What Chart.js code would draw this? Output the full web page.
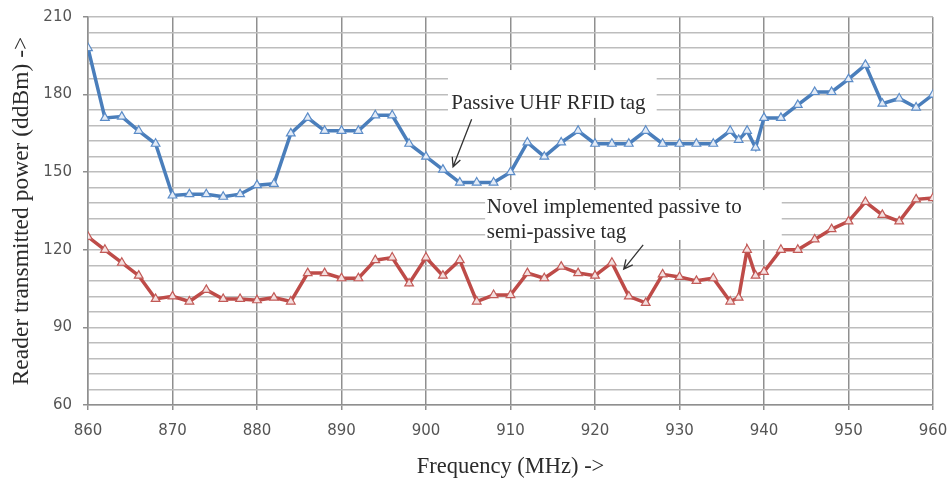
<!DOCTYPE html>
<html>
<head>
<meta charset="utf-8">
<script src="https://cdn.jsdelivr.net/npm/chart.js@4.4.1/dist/chart.umd.min.js"></script>
<style>
  html, body { margin: 0; padding: 0; background: #fff; }
</style>
</head>
<body>
<canvas id="chart" width="947" height="483"></canvas>
<script>
// Frequencies (MHz) - every 2 MHz plus two extra readings around 938
const freqs = [860, 862, 864, 866, 868, 870, 872, 874, 876, 878,
  880, 882, 884, 886, 888, 890, 892, 894, 896, 898,
  900, 902, 904, 906, 908, 910, 912, 914, 916, 918,
  920, 922, 924, 926, 928, 930, 932, 934, 936, 937,
  938, 939, 940, 942, 944, 946, 948, 950, 952, 954,
  956, 958, 960];

// Passive UHF RFID tag (ddBm)
const passiveTag = [198, 171, 171.5, 166, 161, 141, 141.5, 141.5, 140.5, 141.5,
  145, 145.5, 165, 171, 166, 166, 166, 172, 172, 161,
  156, 151, 146, 146, 146, 150, 161.5, 156, 161.5, 166,
  161, 161, 161, 166, 161, 161, 161, 161, 166, 162.5,
  166, 159.5, 171, 171, 176, 181, 181, 186, 191.5, 176.5,
  178.5, 175, 180];

// Novel implemented passive to semi-passive tag (ddBm)
const semiPassiveTag = [125, 120, 115, 110, 101, 102, 100, 104.5, 101, 101,
  100.5, 101.5, 100, 111, 111, 109, 109, 116, 117, 107,
  117, 110, 116, 100, 102.5, 102.5, 111, 109, 113.5, 111,
  110, 115, 102, 99.5, 110.5, 109.5, 108, 109, 100, 101.5,
  120, 110, 111.5, 120, 120, 124, 128, 131, 138.5, 133.5,
  131, 139.5, 140];

const labelPassive = ["Passive UHF RFID tag"];
const labelSemi = ["Novel implemented passive to", "semi-passive tag"];

// Callout boxes, positioned in data units (freq, ddBm)
const notes = [
  { box: [902.6, 189.5, 927.3, 171], text: labelPassive, at: [903, 176.6], arrow: [905.4, 170.5, 903.2, 152.1] },
  { box: [907, 143.1, 942.1, 123.8], text: labelSemi, at: [907.2, 136.2], arrow: [925.7, 121.9, 923.4, 112.5] }
];

function pts(ys) {
  return freqs.map((f, i) => ({ x: f, y: ys[i] }));
}

const calloutPlugin = {
  id: "callouts",
  afterDatasetsDraw(chart) {
    const { ctx, scales: { x, y } } = chart;
    ctx.save();
    notes.forEach(n => {
      const x0 = x.getPixelForValue(n.box[0]), y0 = y.getPixelForValue(n.box[1]);
      const x1 = x.getPixelForValue(n.box[2]), y1 = y.getPixelForValue(n.box[3]);
      ctx.fillStyle = "#fff";
      ctx.fillRect(x0, y0, x1 - x0, y1 - y0);

      ctx.fillStyle = "#2b2b2b";
      ctx.font = "21px 'Liberation Serif', 'Times New Roman', serif";
      ctx.textBaseline = "middle";
      ctx.textAlign = "left";
      const tx = x.getPixelForValue(n.at[0]);
      let ty = y.getPixelForValue(n.at[1]);
      n.text.forEach(t => { ctx.fillText(t, tx, ty); ty += 25; });

      // arrow
      const ax = x.getPixelForValue(n.arrow[0]), ay = y.getPixelForValue(n.arrow[1]);
      const bx = x.getPixelForValue(n.arrow[2]), by = y.getPixelForValue(n.arrow[3]);
      ctx.strokeStyle = "#333";
      ctx.lineWidth = 1.3;
      ctx.beginPath();
      ctx.moveTo(ax, ay);
      ctx.lineTo(bx, by);
      const ang = Math.atan2(by - ay, bx - ax);
      const hl = 10;
      ctx.moveTo(bx - hl * Math.cos(ang - 0.45), by - hl * Math.sin(ang - 0.45));
      ctx.lineTo(bx, by);
      ctx.lineTo(bx - hl * Math.cos(ang + 0.45), by - hl * Math.sin(ang + 0.45));
      ctx.stroke();
    });
    ctx.restore();
  }
};

const tickFont = { family: "'DejaVu Sans', sans-serif", size: 15 };
const serif = "'Liberation Serif', 'Times New Roman', serif";

new Chart(document.getElementById("chart"), {
  type: "line",
  data: {
    datasets: [
      {
        label: "Passive UHF RFID tag",
        data: pts(passiveTag),
        borderColor: "#4a7ebb",
        borderWidth: 3.5,
        pointStyle: "triangle",
        pointRadius: 5,
        pointBorderWidth: 1.2,
        pointBorderColor: "#5b8cc8",
        pointBackgroundColor: "#e4ecf7",
        tension: 0,
      },
      {
        label: "Novel implemented passive to semi-passive tag",
        data: pts(semiPassiveTag),
        borderColor: "#be4b48",
        borderWidth: 3.5,
        pointStyle: "triangle",
        pointRadius: 5,
        pointBorderWidth: 1.2,
        pointBorderColor: "#c25a57",
        pointBackgroundColor: "#f4e0e0",
        tension: 0,
      },
    ],
  },
  options: {
    responsive: false,
    animation: false,
    devicePixelRatio: 1,
    layout: { padding: { top: 17, right: 14, left: 0, bottom: 0 } },
    plugins: { legend: { display: false }, tooltip: { enabled: false } },
    scales: {
      x: {
        type: "linear",
        min: 860,
        max: 960,
        afterFit: s => { s.height = 78; s.paddingLeft = 0; s.paddingRight = 0; },
        ticks: { stepSize: 10, font: tickFont, color: "#555", padding: 12, maxRotation: 0 },
        grid: { color: "#8f8f8f", lineWidth: 1.5, tickLength: 5, tickColor: "#8f8f8f" },
        border: { color: "#8f8f8f", width: 1.5 },
        title: { display: true, text: "Frequency (MHz) ->", font: { family: serif, size: 22.5 }, color: "#2b2b2b", padding: { top: 0, bottom: 2 } },
      },
      y: {
        min: 60,
        max: 210,
        afterFit: s => { s.width = 88; s.paddingTop = 0; s.paddingBottom = 0; },
        ticks: {
          stepSize: 6,
          autoSkip: false,
          font: tickFont,
          color: "#555",
          padding: 11,
          callback: v => (v % 30 === 0 ? v : ""),
        },
        grid: {
          color: "#bdbdbd",
          lineWidth: 1.5,
          tickLength: 5,
          tickColor: c => (c.tick && c.tick.value % 30 === 0 ? "#8f8f8f" : "rgba(0,0,0,0)"),
        },
        border: { color: "#8f8f8f", width: 1.5 },
        title: { display: true, text: "Reader transmitted power (ddBm) ->", font: { family: serif, size: 23.5 }, color: "#2b2b2b", padding: { top: 8, bottom: 0 } },
      },
    },
  },
  plugins: [calloutPlugin],
});
</script>
</body>
</html>
